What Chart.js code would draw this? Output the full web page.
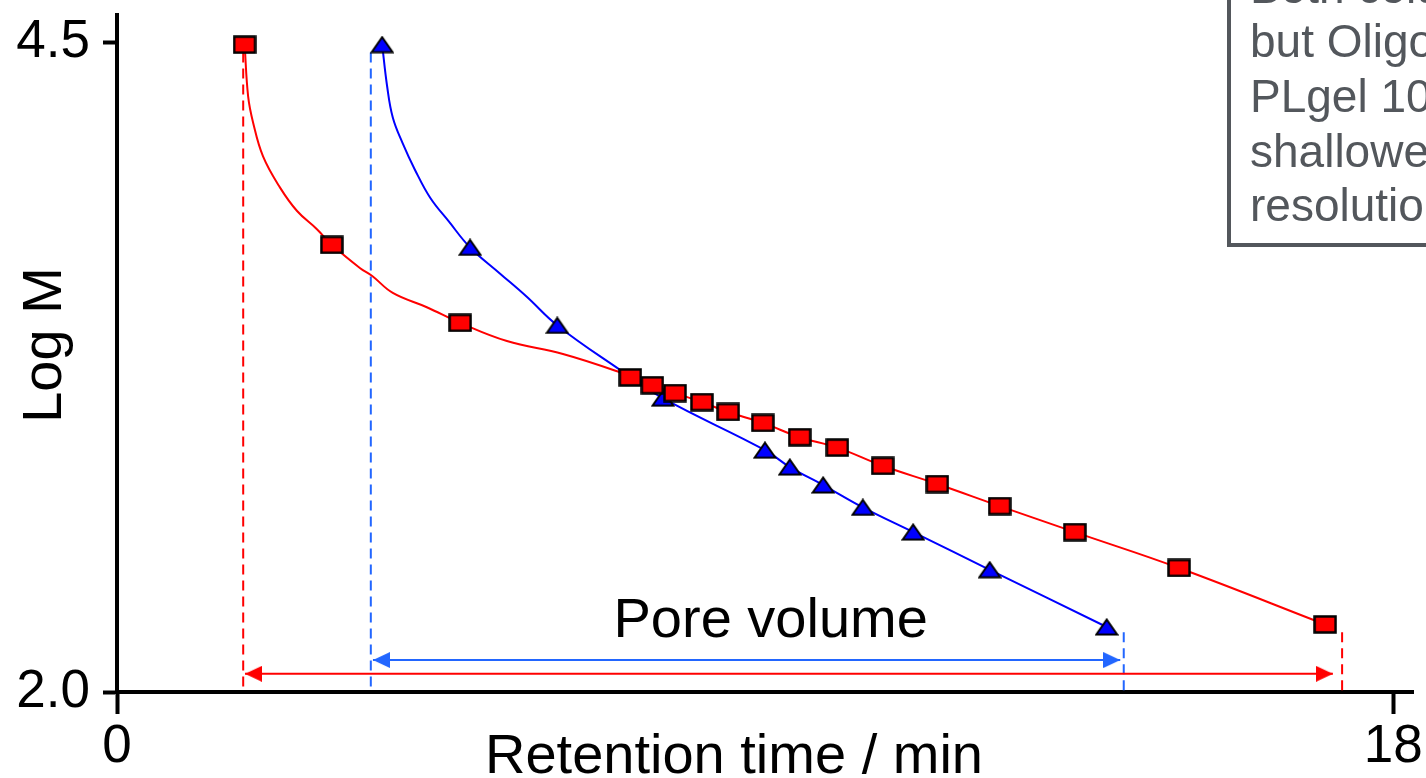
<!DOCTYPE html>
<html>
<head>
<meta charset="utf-8">
<title>Log M vs retention time</title>
<script src="https://cdn.jsdelivr.net/npm/chart.js@4.4.1/dist/chart.umd.min.js"></script>
<style>
  html, body { margin: 0; padding: 0; background: #fff; overflow: hidden; }
  #wrap { position: relative; width: 1426px; height: 778px; overflow: hidden; }
  #note {
    position: absolute; left: 1227px; top: -60px; width: 700px; height: 307px;
    box-sizing: border-box; border: 4px solid #53575c;
    padding: 15.5px 0 0 19px;
    font: 46px/54.7px "Liberation Sans", Arial, sans-serif;
    color: #53575c; white-space: nowrap;
  }
</style>
</head>
<body>
<div id="wrap">
  <canvas id="chart"></canvas>
  <div id="note"></div>
</div>
<script>
(function () {

    // PLgel (red squares) calibrants: retention time / min and log M
    var redT    = [1.80, 3.03, 4.84, 7.24, 7.55, 7.87, 8.25, 8.62, 9.11, 9.63, 10.16, 10.80, 11.57, 12.45, 13.51, 14.98, 17.04];
    var redLogM = [4.49, 3.72, 3.42, 3.21, 3.18, 3.15, 3.115, 3.077, 3.035, 2.98, 2.94, 2.87, 2.80, 2.715, 2.615, 2.477, 2.26];

    // OligoPore (blue triangles) calibrants
    var blueT    = [3.74, 4.98, 6.21, 7.70, 9.14, 9.49, 9.96, 10.52, 11.23, 12.31, 13.96];
    var blueLogM = [4.49, 3.71, 3.41, 3.13, 2.93, 2.865, 2.796, 2.71, 2.615, 2.47, 2.25];

    // fitted curves, upper part, the rest follows the calibrants
    var redFitT    = [1.80, 1.85, 1.92, 2.06, 2.30, 2.54, 2.82, 3.03, 3.43, 3.60, 3.89, 4.37, 4.84, 5.50, 6.29, 7.09];
    var redFitLogM = [4.49, 4.29, 4.19, 4.06, 3.94, 3.85, 3.78, 3.72, 3.63, 3.60, 3.535, 3.48, 3.42, 3.35, 3.30, 3.23];
    var blueFitT    = [3.74, 3.81, 3.89, 4.03, 4.20, 4.42, 4.68, 4.98, 5.40, 5.78, 6.21, 7.09];
    var blueFitLogM = [4.49, 4.33, 4.21, 4.11, 4.01, 3.90, 3.81, 3.71, 3.61, 3.52, 3.41, 3.24];

    // exclusion / total permeation limits (dashed) and pore volume arrows
    var redLimitsT  = [1.78, 17.28];
    var blueLimitsT = [3.58, 14.20];
    var limitTopLogM = [4.46, 2.23];
    var redArrowT  = [1.805, 17.15];
    var blueArrowT = [3.61, 14.15];
    var redArrowLogM = 2.07;
    var blueArrowLogM = 2.123;

    var xTicks = [0, 18];
    var yTicks = [2.0, 4.5];

    var noteLines = [
      'Both columns have the same pore volume',
      'but OligoPore has a smaller range than',
      'PLgel 100\u00c5 and so has a',
      'shallower calibration and higher',
      'resolution'
    ];
    document.getElementById('note').innerHTML = noteLines.join('<br>');

    var RED = '#ff0000';
    var BLUE = '#0000ff';
    var LIGHTBLUE = '#2266ff';
    var FONT = '"Liberation Sans", Arial, sans-serif';

    function pts(xs, ys) {
      return xs.map(function (v, i) { return {x: v, y: ys[i]}; });
    }

    function fitPoints(fx, fy, mx, my) {
      var out = pts(fx, fy);
      var last = fx[fx.length - 1];
      for (var i = 0; i < mx.length; i++) {
        if (mx[i] > last) out.push({x: mx[i], y: my[i]});
      }
      return out;
    }

    // marker images
    function makeRect() {
      var c = document.createElement('canvas');
      c.width = 24; c.height = 19;
      var g = c.getContext('2d');
      g.fillStyle = RED;
      g.fillRect(1.5, 1.5, 21, 16);
      g.strokeStyle = '#000';
      g.lineWidth = 2.5;
      g.strokeRect(1.5, 1.5, 21, 16);
      return c;
    }
    function makeTri() {
      var c = document.createElement('canvas');
      c.width = 24; c.height = 18;
      var g = c.getContext('2d');
      g.beginPath();
      g.moveTo(12, 1.5); g.lineTo(22.5, 16.5); g.lineTo(1.5, 16.5); g.closePath();
      g.fillStyle = BLUE; g.fill();
      g.strokeStyle = '#000'; g.lineWidth = 2; g.lineJoin = 'miter'; g.stroke();
      return c;
    }
    // arrow head with its tip in the middle of the image
    function makeHead(color, dir) {
      var L = 17, H = 16;
      var c = document.createElement('canvas');
      c.width = 2 * L; c.height = H;
      var g = c.getContext('2d');
      g.beginPath();
      g.moveTo(L, H / 2);
      g.lineTo(L - dir * L, 0);
      g.lineTo(L - dir * L, H);
      g.closePath();
      g.fillStyle = color; g.fill();
      return c;
    }

    var rectImg = makeRect();
    var triImg = makeTri();

    function dashed(t, top, color) {
      return {
        data: [{x: t, y: top}, {x: t, y: 2.0}],
        showLine: true, borderColor: color, borderWidth: 2, borderDash: [10, 6],
        pointRadius: 0, fill: false, order: 5
      };
    }
    function arrow(ts, y, color) {
      return {
        data: [{x: ts[0], y: y}, {x: ts[1], y: y}],
        showLine: true, borderColor: color, borderWidth: 2,
        pointStyle: [makeHead(color, -1), makeHead(color, 1)],
        pointRadius: 8, fill: false, order: 4
      };
    }

    var textPlugin = {
      id: 'textPlugin',
      afterDraw: function (chart) {
        var ctx = chart.ctx, sx = chart.scales.x, sy = chart.scales.y;
        ctx.save();
        ctx.fillStyle = '#000';
        ctx.font = '56px ' + FONT;
        ctx.textAlign = 'center';
        ctx.textBaseline = 'alphabetic';
        ctx.fillText('Pore volume', sx.getPixelForValue(9.22), sy.getPixelForValue(2.21));
        ctx.fillText('Retention time / min', 734, 773);
        ctx.translate(61, 345);
        ctx.rotate(-Math.PI / 2);
        ctx.fillText('Log M', 0, 0);
        ctx.restore();
      }
    };

    var tickFont = {size: 53, family: FONT};

    new Chart('chart', {
      type: 'scatter',
      data: {
        datasets: [
          {data: pts(redT, redLogM), pointStyle: rectImg, pointRadius: 10, showLine: false, order: 1},
          {data: pts(blueT, blueLogM), pointStyle: triImg, pointRadius: 10, showLine: false, order: 1},
          {data: fitPoints(redFitT, redFitLogM, redT, redLogM), showLine: true, borderColor: RED, borderWidth: 2,
           pointRadius: 0, tension: 0.4, fill: false, order: 3},
          {data: fitPoints(blueFitT, blueFitLogM, blueT, blueLogM), showLine: true, borderColor: BLUE, borderWidth: 2,
           pointRadius: 0, tension: 0.4, fill: false, order: 2},
          arrow(redArrowT, redArrowLogM, RED),
          arrow(blueArrowT, blueArrowLogM, LIGHTBLUE),
          dashed(redLimitsT[0], limitTopLogM[0], RED),
          dashed(blueLimitsT[0], limitTopLogM[0], LIGHTBLUE),
          dashed(blueLimitsT[1], limitTopLogM[1], LIGHTBLUE),
          dashed(redLimitsT[1], limitTopLogM[1], RED)
        ]
      },
      options: {
        responsive: true,
        maintainAspectRatio: false,
        animation: false,
        devicePixelRatio: 1,
        layout: {padding: {top: 15, right: 13, left: 0, bottom: 0}},
        plugins: {legend: {display: false}, tooltip: {enabled: false}},
        scales: {
          x: {
            type: 'linear', min: 0, max: 18.28,
            border: {display: true, color: '#000', width: 4},
            grid: {drawOnChartArea: false, drawTicks: true, tickLength: 22, tickWidth: 4, tickColor: '#000', color: '#000'},
            ticks: {color: '#000', font: tickFont, padding: 2,
                    callback: function (v) { return String(v); }},
            afterBuildTicks: function (s) { s.ticks = xTicks.map(function (v) { return {value: v}; }); },
            afterFit: function (s) { s.height = 86; s.paddingLeft = 0; s.paddingRight = 0; }
          },
          y: {
            type: 'linear', min: 2.0, max: 4.604,
            border: {display: true, color: '#000', width: 4},
            grid: {drawOnChartArea: false, drawTicks: true, tickLength: 14, tickWidth: 4, tickColor: '#000', color: '#000'},
            ticks: {color: '#000', font: tickFont, padding: 13,
                    callback: function (v) { return Number(v).toFixed(1); }},
            afterBuildTicks: function (s) { s.ticks = yTicks.map(function (v) { return {value: v}; }); },
            afterFit: function (s) { s.width = 117; s.paddingTop = 0; s.paddingBottom = 0; }
          }
        }
      },
      plugins: [textPlugin]
    });
})();
</script>
</body>
</html>
